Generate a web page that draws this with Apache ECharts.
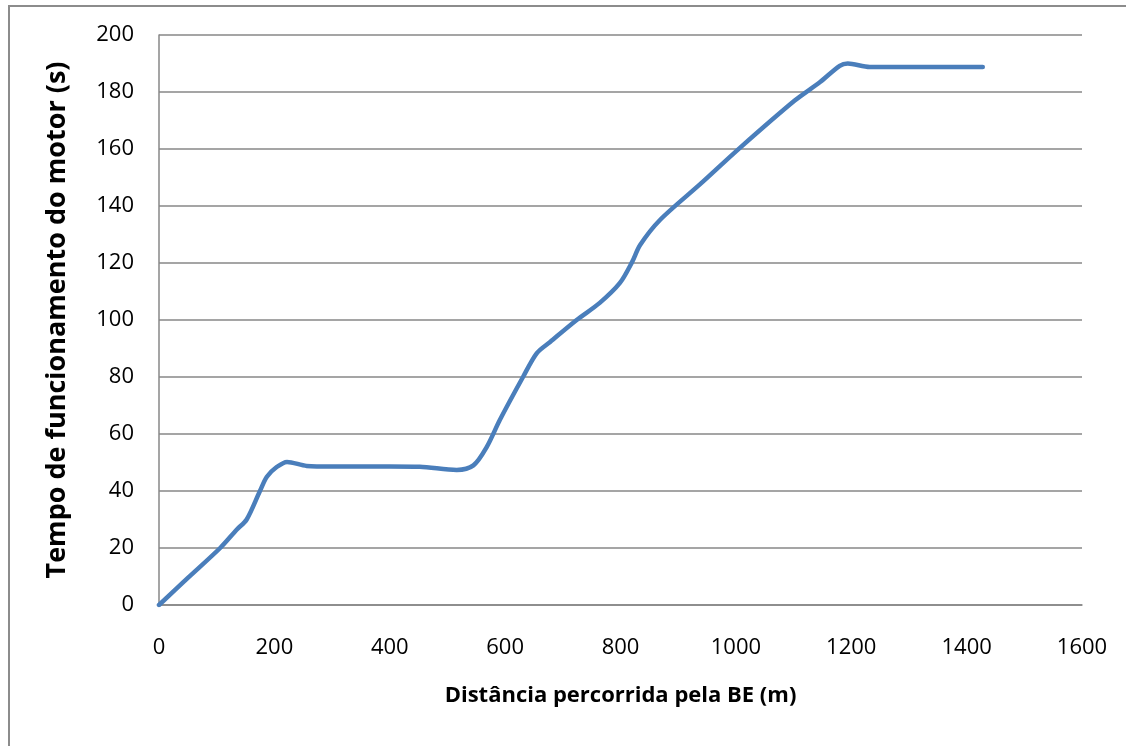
<!DOCTYPE html>
<html>
<head>
<meta charset="utf-8">
<script src="https://cdn.jsdelivr.net/npm/echarts@6/dist/echarts.min.js"></script>
<style>
  html, body { margin: 0; padding: 0; background: #fff; }
  #frame {
    position: absolute; left: 8px; top: 5px;
    width: 1130px; height: 760px;
    border: 2px solid #8c8c8c; box-sizing: border-box;
  }
  #chart { position: absolute; left: 0; top: 0; width: 1126px; height: 746px; }
</style>
</head>
<body>
<div id="frame"></div>
<div id="chart"></div>
<script>
const distance = [0, 50, 106, 135, 152, 175, 187, 204, 222, 256, 300, 400, 452, 516, 545, 568, 591, 631, 655, 678, 724, 764, 799, 820, 834, 868, 940, 1007, 1102, 1146, 1180, 1194, 1232, 1300, 1428];
const motorTime = [0, 9.5, 20, 26.5, 30, 40, 45, 48.4, 50.2, 48.8, 48.6, 48.6, 48.5, 47.4, 49, 55.4, 65, 80, 88.4, 92.3, 100, 106, 113, 120.3, 126.3, 135, 148, 160.4, 177, 183.5, 189.2, 190, 188.8, 188.8, 188.8];
const xTitle = 'Distância percorrida pela BE (m)';
const yTitle = 'Tempo de funcionamento do motor (s)';

const points = distance.map((d, i) => [d, motorTime[i]]);
const gray = '#878787';

const chart = echarts.init(document.getElementById('chart'));
chart.setOption({
  animation: false,
  textStyle: { fontFamily: 'Open Sans' },
  grid: { left: 159, right: 44, top: 35, bottom: 141 },
  xAxis: {
    type: 'value',
    min: 0, max: 1600, interval: 200,
    name: xTitle,
    nameLocation: 'middle',
    nameGap: 80,
    nameTextStyle: { fontSize: 22, fontWeight: 'bold', color: '#000' },
    axisLine: { show: true, lineStyle: { color: gray, width: 1.5 } },
    axisTick: { show: false },
    splitLine: { show: false },
    axisLabel: { fontSize: 22, color: '#000', margin: 32, formatter: v => String(v) }
  },
  yAxis: {
    type: 'value',
    min: 0, max: 200, interval: 20,
    name: yTitle,
    nameLocation: 'middle',
    nameGap: 88,
    nameTextStyle: { fontSize: 27, fontWeight: 'bold', color: '#000' },
    axisLine: { show: true, lineStyle: { color: gray, width: 1.5 } },
    axisTick: { show: false },
    splitLine: { show: true, lineStyle: { color: gray, width: 1.5 } },
    axisLabel: { fontSize: 22, color: '#000', margin: 25 }
  },
  series: [{
    type: 'line',
    data: points,
    smooth: 0.3,
    showSymbol: false,
    lineStyle: { color: '#4A7EBB', width: 4.5, cap: 'round', join: 'round' }
  }]
});
</script>
</body>
</html>
